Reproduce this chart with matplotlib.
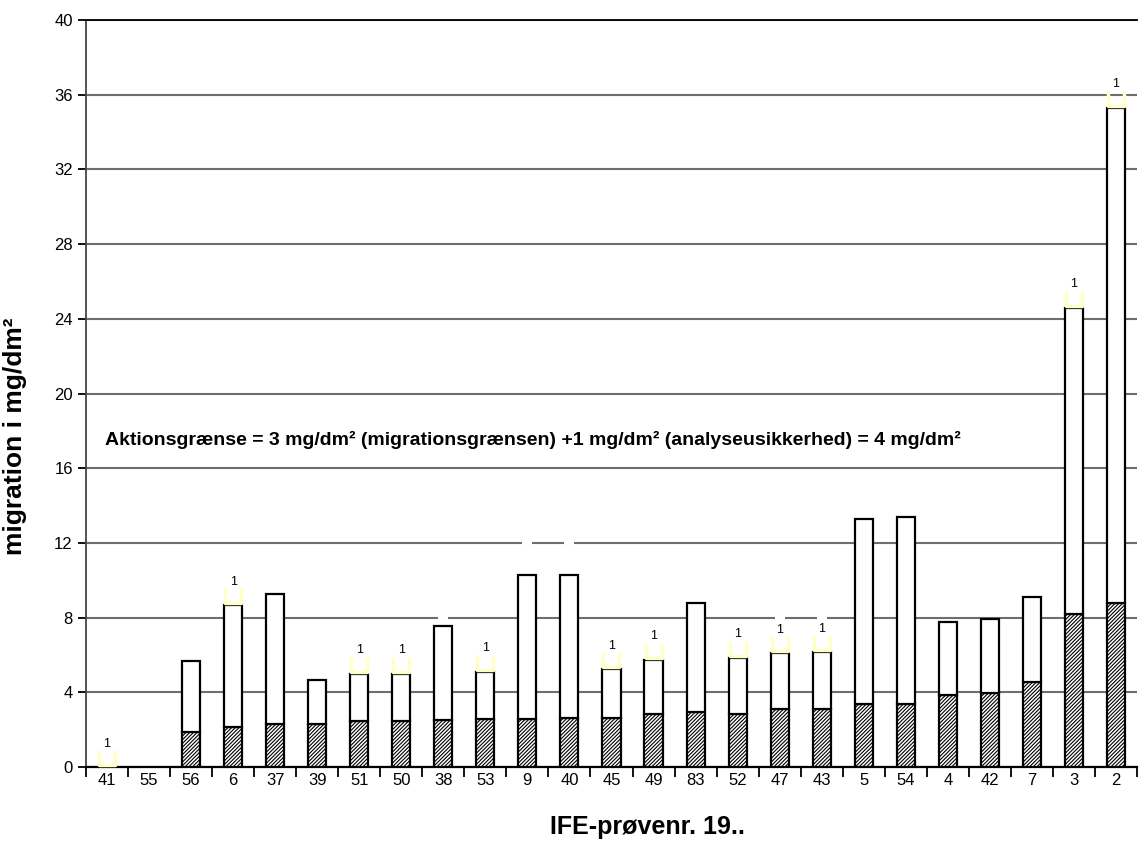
import matplotlib
matplotlib.use('Agg')
import matplotlib.pyplot as plt
import numpy as np
from matplotlib.path import Path

plt.rcParams['font.family'] = ['Liberation Sans', 'DejaVu Sans']
plt.rcParams['hatch.linewidth'] = 0.8

samples = ['41', '55', '56', '6', '37', '39', '51', '50', '38', '53', '9', '40', '45',
           '49', '83', '52', '47', '43', '5', '54', '4', '42', '7', '3', '2']
lower = [0, 0, 1.85, 2.15, 2.3, 2.3, 2.45, 2.45, 2.5, 2.55, 2.55, 2.6, 2.6,
         2.85, 2.95, 2.85, 3.1, 3.1, 3.35, 3.35, 3.85, 3.95, 4.55, 8.2, 8.8]
total = [0, 0, 5.7, 8.65, 9.25, 4.65, 5.0, 5.0, 7.55, 5.1, 10.3, 10.3, 5.25,
         5.75, 8.8, 5.85, 6.1, 6.15, 13.3, 13.4, 7.75, 7.9, 9.1, 24.6, 35.3]
# samples marked with "1"
flagged = ['41', '6', '51', '50', '53', '45', '49', '52', '47', '43', '3', '2']
# small white marks on the gridlines
white_x = ['38', '9', '40', '47', '43']
white_y = [8, 12, 12, 8, 8]

x = np.arange(len(samples))
lower = np.array(lower)
total = np.array(total)
upper = total - lower
lw = np.where(total > 0, 1.6, 0)

fig = plt.figure(figsize=(11.45, 8.63), dpi=100)
ax = fig.add_axes([0.0751, 0.1112, 0.9179, 0.8656])

ax.bar(x, lower, width=0.43, color='white', edgecolor='black', hatch='/////////',
       linewidth=lw, zorder=3)
ax.bar(x, upper, bottom=lower, width=0.43, color='white', edgecolor='black',
       linewidth=lw, zorder=3)

u_marker = Path([(-0.5, 1.0), (-0.5, 0.1), (0.5, 0.1), (0.5, 1.0)])
fx = [samples.index(s) for s in flagged]
fy = [total[i] for i in fx]
ax.plot(fx, fy, linestyle='none', marker=u_marker, markersize=24,
        markerfacecolor='none', markeredgecolor='#ffffc8', markeredgewidth=2.5,
        zorder=4)
for i, v in zip(fx, fy):
    ax.annotate('1', (i, v), xytext=(0, 12.5), textcoords='offset points',
                ha='center', va='bottom', fontsize=9, zorder=5)

wx = [samples.index(s) for s in white_x]
ax.plot(wx, white_y, linestyle='none', marker='_', markersize=7,
        markeredgecolor='white', markeredgewidth=3, zorder=2.5)

ax.set_xlim(-0.5, len(samples) - 0.5)
ax.set_ylim(0, 40)
ax.set_yticks(np.arange(0, 41, 4))
ax.yaxis.grid(True, color='#6e6e6e', linewidth=1.5, zorder=1)
ax.set_axisbelow(True)

ax.set_xticks(x)
ax.set_xticklabels(samples)
ax.set_xticks(np.arange(-0.5, len(samples), 1), minor=True)
ax.tick_params(axis='x', which='major', length=0, pad=4, labelsize=12)
ax.tick_params(axis='x', which='minor', length=7, width=1.3, direction='out')
ax.tick_params(axis='y', length=6, width=1.3, labelsize=12)

ax.spines['right'].set_visible(False)
ax.spines['top'].set_color('black')
ax.spines['top'].set_linewidth(1.3)
ax.spines['left'].set_color('#444444')
ax.spines['left'].set_linewidth(1.3)
ax.spines['bottom'].set_linewidth(1.6)

ax.set_ylabel('migration i mg/dm²', fontsize=19, fontweight='bold')
ax.yaxis.set_label_coords(-0.056, 0.443)
ax.set_xlabel('IFE-prøvenr. 19..', fontsize=18, fontweight='bold')
ax.xaxis.set_label_coords(0.534, -0.064)

ax.text(-0.05, 17.5,
        'Aktionsgrænse = 3 mg/dm² (migrationsgrænsen) +1 mg/dm² (analyseusikkerhed) = 4 mg/dm²',
        fontsize=14, fontweight='bold', ha='left', va='center', zorder=6)

fig.savefig('out.png', dpi=100)
